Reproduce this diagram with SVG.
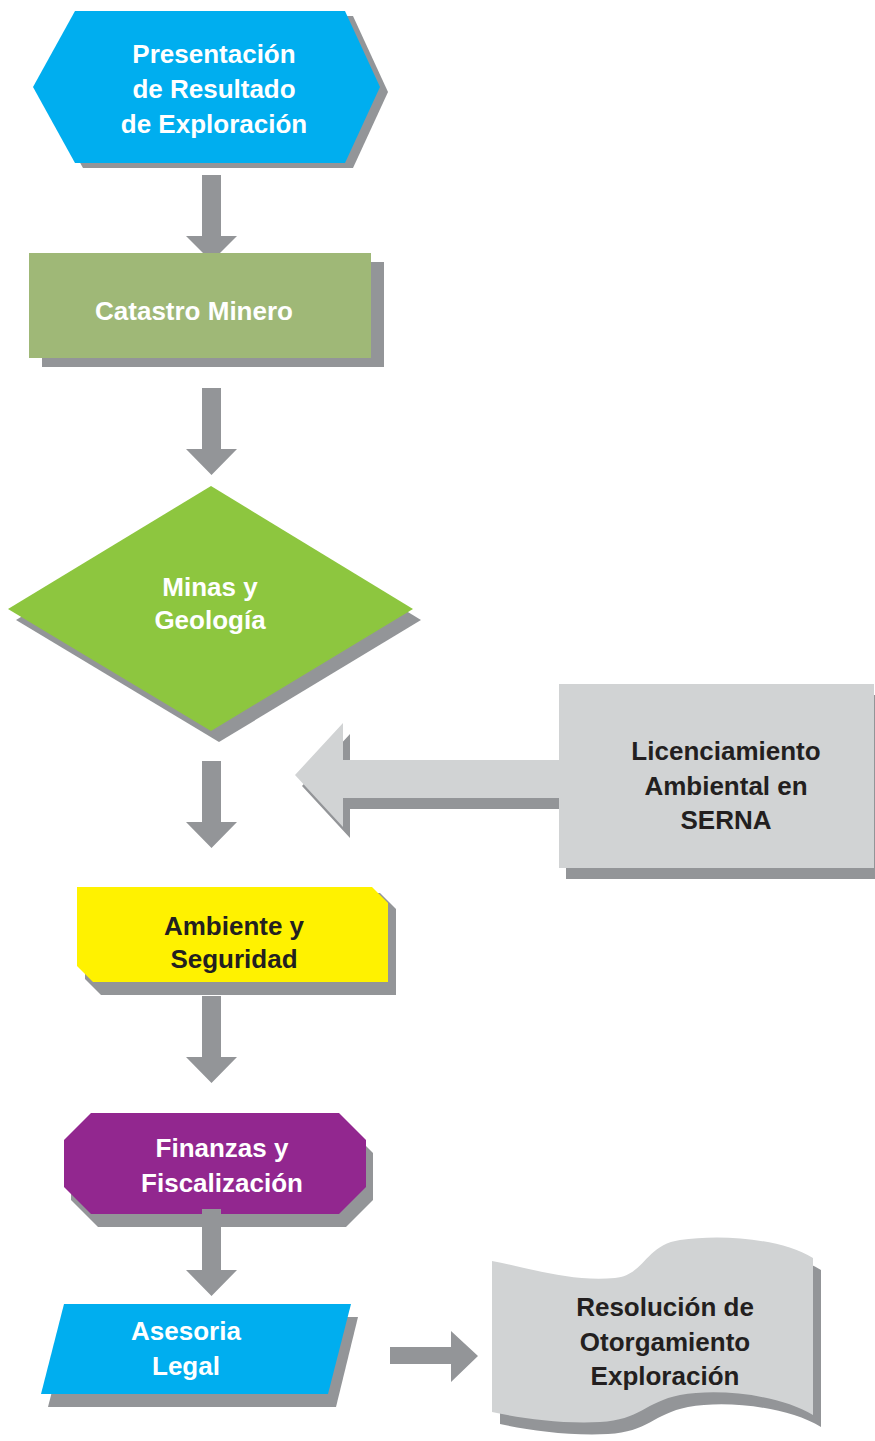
<svg xmlns="http://www.w3.org/2000/svg" width="875" height="1441" viewBox="0 0 875 1441">
<style>
text{font-family:"Liberation Sans",Arial,sans-serif;font-weight:bold;font-size:26px;text-anchor:middle}
.w{fill:#ffffff}
.k{fill:#231f20}
.sh{fill:#939598}
.arr{fill:#939598}
.lg{fill:#d1d3d4}
</style>
<defs>
<path id="down" d="M-9.5,0 H9.5 V61 H25.5 L0,87 L-25.5,61 H-9.5 Z"/>
</defs>
<rect width="875" height="1441" fill="#ffffff"/>
<g id="presentacion">
<polygon class="sh" points="83,16 353,16 388,92 353,168 83,168 41,92"/>
<polygon fill="#00aeef" points="75,11 345,11 380,87 345,163 75,163 33,87"/>
<text class="w" x="214" y="63">Presentación</text>
<text class="w" x="214" y="98">de Resultado</text>
<text class="w" x="214" y="133">de Exploración</text>
</g>
<g id="catastro">
<rect class="sh" x="42" y="262" width="342" height="105"/>
<rect fill="#9fb877" x="29" y="253" width="342" height="105"/>
<text class="w" x="194" y="320">Catastro Minero</text>
</g>
<g id="minas">
<polygon class="sh" points="219,497 421,620 219,742 16,620"/>
<polygon fill="#8dc63f" points="211,486 413,609 211,731 8,609"/>
<text class="w" x="210" y="596">Minas y</text>
<text class="w" x="210" y="629">Geología</text>
</g>
<g id="licenciamiento">
<rect class="sh" x="566" y="695" width="315" height="184"/>
<rect class="lg" x="559" y="684" width="315" height="184"/>
<text class="k" x="726" y="760">Licenciamiento</text>
<text class="k" x="726" y="795">Ambiental en</text>
<text class="k" x="726" y="829">SERNA</text>
</g>
<g id="ambiente">
<polygon class="sh" points="85,893 380,893 396,909 396,995 101,995 85,979"/>
<polygon fill="#fff200" points="77,887 372,887 388,903 388,982 93,982 77,966"/>
<text class="k" x="234" y="935">Ambiente y</text>
<text class="k" x="234" y="968">Seguridad</text>
</g>
<g id="finanzas">
<polygon class="sh" points="98,1126 346,1126 373,1153 373,1200 346,1227 98,1227 71,1200 71,1153"/>
<polygon fill="#92278f" points="91,1113 339,1113 366,1140 366,1187 339,1214 91,1214 64,1187 64,1140"/>
<text class="w" x="222" y="1157">Finanzas y</text>
<text class="w" x="222" y="1192">Fiscalización</text>
</g>
<g id="asesoria">
<polygon class="sh" points="71,1317 358,1317 336,1407 48,1407"/>
<polygon fill="#00aeef" points="64,1304 351,1304 328,1394 41,1394"/>
<text class="w" x="186" y="1340">Asesoria</text>
<text class="w" x="186" y="1375">Legal</text>
</g>
<g id="resolucion">
<path class="sh" d="M500,1273 C538,1280 578,1294 623,1290 C653,1287 653,1257 688,1252 C728,1246 788,1250 821,1270 L821,1427 C788,1407 728,1400 688,1407 C653,1414 648,1432 608,1434 C568,1436 528,1430 500,1424 Z"/>
<path class="lg" d="M492,1261 C530,1268 570,1282 615,1278 C645,1275 645,1245 680,1240 C720,1234 780,1238 813,1258 L813,1415 C780,1395 720,1388 680,1395 C645,1402 640,1420 600,1422 C560,1424 520,1418 492,1412 Z"/>
<text class="k" x="665" y="1316">Resolución de</text>
<text class="k" x="665" y="1351">Otorgamiento</text>
<text class="k" x="665" y="1385">Exploración</text>
</g>
<g id="connectors">
<polygon class="arr" points="202,175 221,175 221,236 237,236 220,253 203,253 186,236 202,236"/>
<use href="#down" class="arr" x="211.5" y="388"/>
<use href="#down" class="arr" x="211.5" y="761"/>
<use href="#down" class="arr" x="211.5" y="996"/>
<use href="#down" class="arr" x="211.5" y="1209"/>
<polygon class="arr" points="390,1347 451,1347 451,1331 478,1356 451,1382 451,1364 390,1364"/>
<polygon class="sh" points="302,786 350,734 350,771 559,771 559,809 350,809 350,838"/>
<polygon class="lg" points="295,775 343,723 343,760 559,760 559,798 343,798 343,827"/>
</g>
</svg>
